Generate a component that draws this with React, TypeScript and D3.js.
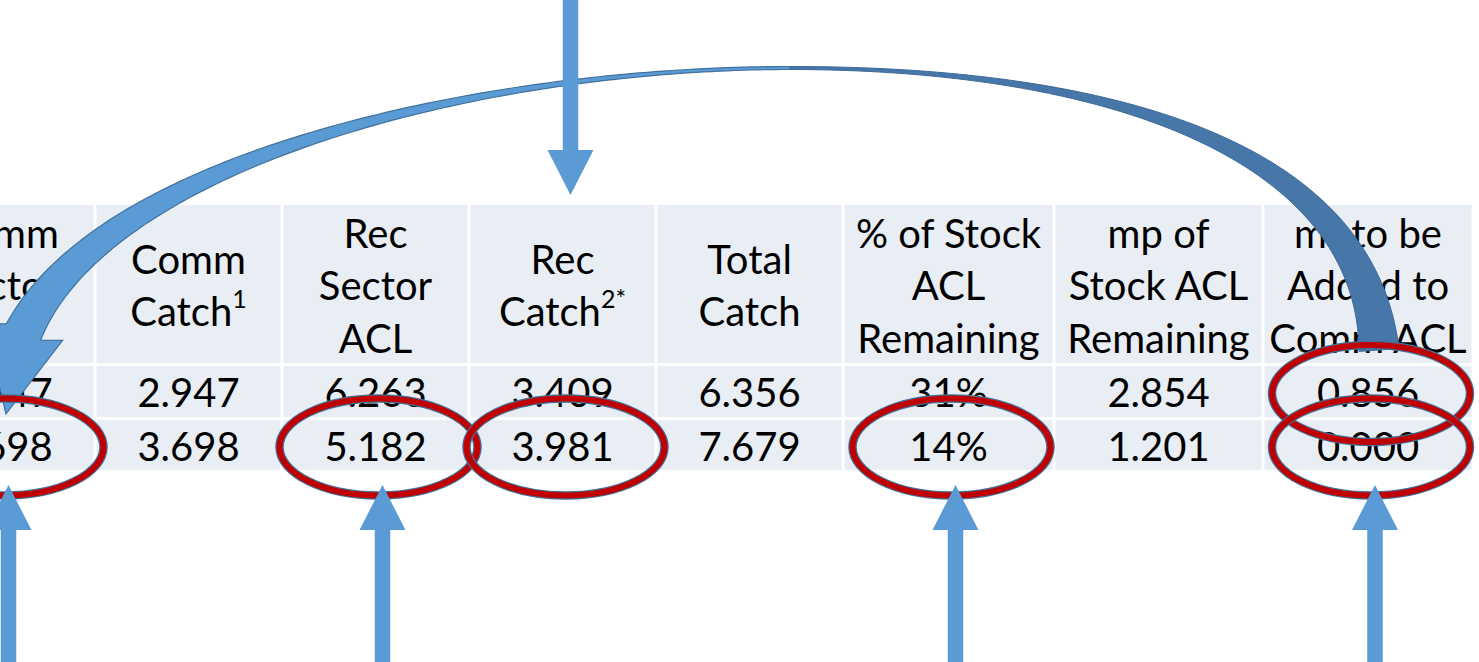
import React, { useEffect } from "react";
import * as d3 from "d3";

// table content
const headerLines: string[][] = [
  ["Comm", "Sector", "ACL"],
  ["Comm", "Catch^1"],
  ["Rec", "Sector", "ACL"],
  ["Rec", "Catch^2*"],
  ["Total", "Catch"],
  ["% of Stock", "ACL", "Remaining"],
  ["mp of", "Stock ACL", "Remaining"],
  ["mt to be", "Added to", "Comm ACL"],
];
const row1Values = ["2.947", "2.947", "6.263", "3.409", "6.356", "31%", "2.854", "0.856"];
const row2Values = ["3.698", "3.698", "5.182", "3.981", "7.679", "14%", "1.201", "0.000"];

// annotations: circled cells [row, col], arrows by column
const circledCells: [number, number][] = [[1, 0], [1, 2], [1, 3], [1, 5], [0, 7], [1, 7]];
const upArrowCols = [0, 2, 5, 7];
const downArrowCol = 3;

const W = 1479;
const H = 662;
const FONT = "Lato, 'Open Sans', sans-serif";
const COL_X0 = -92;
const COL_W = [187, 187, 187, 187, 187, 211, 209, 210];
const ROW_EDGES = [203.5, 364.5, 418.5, 471.5];
const GAP = 1.5;

const colEdges = [COL_X0, ...Array.from(d3.cumsum(COL_W), (c) => COL_X0 + c)];
const colCenter = (i: number) => (colEdges[i] + colEdges[i + 1]) / 2;
const rowCenter = (r: number) => (ROW_EDGES[r + 1] + ROW_EDGES[r + 2]) / 2;

type P = [number, number];

function bez(p: P[], t: number): P {
  const m = 1 - t;
  const a = m * m * m, b = 3 * m * m * t, c = 3 * m * t * t, d = t * t * t;
  return [a * p[0][0] + b * p[1][0] + c * p[2][0] + d * p[3][0], a * p[0][1] + b * p[1][1] + c * p[2][1] + d * p[3][1]];
}
function bezD(p: P[], t: number): P {
  const m = 1 - t;
  const f = (k: number) => 3 * m * m * (p[1][k] - p[0][k]) + 6 * m * t * (p[2][k] - p[1][k]) + 3 * t * t * (p[3][k] - p[2][k]);
  return [f(0), f(1)];
}
function ribbon(p: P[], hw: (t: number) => number, n = 120) {
  const outer: P[] = [];
  const inner: P[] = [];
  for (let i = 0; i <= n; i++) {
    const t = i / n;
    const [x, y] = bez(p, t);
    const [dx, dy] = bezD(p, t);
    const len = Math.hypot(dx, dy) || 1;
    const nx = -dy / len, ny = dx / len, w = hw(t);
    outer.push([x + nx * w, y + ny * w]);
    inner.push([x - nx * w, y - ny * w]);
  }
  return { outer, inner };
}

const line = d3.line<P>();

// curved arrow: dark back half (to the right) and light front half with head (to the left)
const peak: P = [790, 68];
const backCurve: P[] = [peak, [1110, 68], [1365, 150], [colCenter(7) + 11, 350]];
const frontCurve: P[] = [peak, [480, 68], [105, 160], [colCenter(0) + 22, 332]];
const headTip: P = [6, 414];
const headHalf = 40;

function backPath() {
  const { outer, inner } = ribbon(backCurve, (t) => 1.5 + 18.5 * Math.pow(t, 1.8));
  return line([...outer, ...inner.reverse()]) + "Z";
}
function frontPath() {
  const { outer, inner } = ribbon(frontCurve, (t) => 1.5 + 17.5 * Math.pow(t, 2));
  const base = frontCurve[3];
  const dx = headTip[0] - base[0], dy = headTip[1] - base[1];
  const len = Math.hypot(dx, dy);
  const nx = -dy / len, ny = dx / len;
  const pts: P[] = [
    ...outer,
    [base[0] + nx * headHalf, base[1] + ny * headHalf],
    headTip,
    [base[0] - nx * headHalf, base[1] - ny * headHalf],
    ...inner.reverse(),
  ];
  return line(pts) + "Z";
}

// straight block arrow, tip at (x, tipY), tail at tailY
function blockArrow(x: number, tipY: number, tailY: number) {
  const dir = tailY > tipY ? 1 : -1;
  const shaft = 7.75, head = 23, headLen = 45;
  const baseY = tipY + dir * headLen;
  const pts: P[] = [
    [x, tipY], [x + head, baseY], [x + shaft, baseY], [x + shaft, tailY],
    [x - shaft, tailY], [x - shaft, baseY], [x - head, baseY],
  ];
  return line(pts) + "Z";
}

function HeaderLine({ text, x, y }: { text: string; x: number; y: number }) {
  const [main, sup] = text.split("^");
  return (
    <text x={x} y={y} textAnchor="middle" fontFamily={FONT} fontSize={40} fill="#000">
      {main}
      {sup && (
        <tspan fontSize={25} dy={-18}>{sup}</tspan>
      )}
    </text>
  );
}

export default function App() {
  useEffect(() => {
    document.body.style.margin = "0";
  }, []);

  const rows = [row1Values, row2Values];
  const lineH = 52.5;

  return (
    <svg width={W} height={H} style={{ display: "block", background: "#fff" }}>
      {/* cells */}
      {COL_W.map((w, c) =>
        [0, 1, 2].map((r) => (
          <rect
            key={`c${c}-${r}`}
            x={colEdges[c] + GAP}
            y={ROW_EDGES[r] + GAP}
            width={w - 2 * GAP}
            height={ROW_EDGES[r + 1] - ROW_EDGES[r] - 2 * GAP}
            fill="#E9EDF4"
          />
        ))
      )}
      {/* header text */}
      {headerLines.map((lines, c) =>
        lines.map((t, i) => (
          <HeaderLine key={`h${c}-${i}`} text={t} x={colCenter(c)} y={300 + (i - (lines.length - 1) / 2) * lineH} />
        ))
      )}
      {/* values */}
      {rows.map((vals, r) =>
        vals.map((v, c) => (
          <text key={`v${r}-${c}`} x={colCenter(c)} y={rowCenter(r) + 15.5} textAnchor="middle" fontFamily={FONT} fontSize={40} fill="#000">
            {v}
          </text>
        ))
      )}
      {/* curved arrow */}
      <path d={backPath()} fill="#4677A8" stroke="#3D6A98" strokeWidth={1} />
      <path d={frontPath()} fill="#5B9BD5" stroke="#41719C" strokeWidth={1.2} />
      {/* circled cells */}
      {circledCells.map(([r, c]) => (
        <g key={`e${r}-${c}`}>
          <ellipse cx={colCenter(c) + 3} cy={rowCenter(r) + 2} rx={99} ry={48.5} fill="none" stroke="#41719C" strokeWidth={8.5} />
          <ellipse cx={colCenter(c) + 3} cy={rowCenter(r) + 2} rx={99} ry={48.5} fill="none" stroke="#C00000" strokeWidth={6} />
        </g>
      ))}
      {/* straight arrows */}
      {upArrowCols.map((c) => (
        <path key={`u${c}`} d={blockArrow(colCenter(c) + 7, 485, 662)} fill="#5B9BD5" />
      ))}
      <path d={blockArrow(colCenter(downArrowCol) + 8, 195, 0)} fill="#5B9BD5" />
    </svg>
  );
}
